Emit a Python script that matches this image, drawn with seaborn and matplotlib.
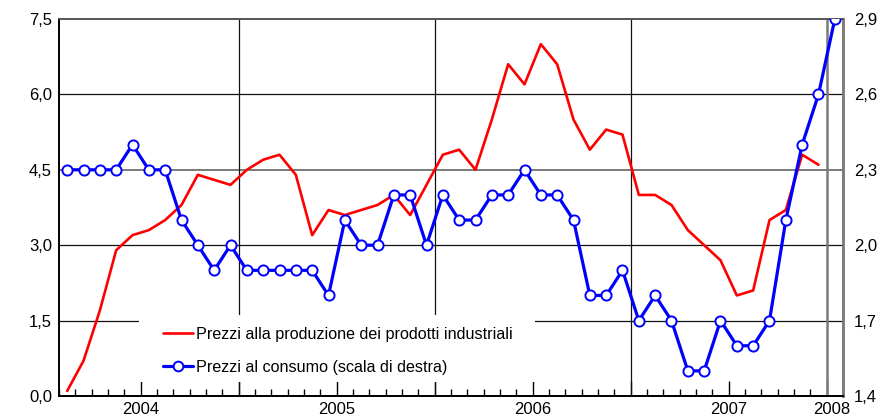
import numpy as np
import pandas as pd
import matplotlib
matplotlib.use("Agg")
import matplotlib.pyplot as plt
import seaborn as sns
from matplotlib.patches import Rectangle
from matplotlib.lines import Line2D

sns.set_theme(style="white")
plt.rcParams["font.family"] = ["Liberation Sans", "DejaVu Sans"]

# ---------------- data ----------------
months = pd.period_range("2004-02", "2008-01", freq="M").strftime("%Y-%m").tolist()

prezzi_produzione = [0.1, 0.7, 1.7, 2.9, 3.2, 3.3, 3.5, 3.8, 4.4, 4.3, 4.2,
                     4.5, 4.7, 4.8, 4.4, 3.2, 3.7, 3.6, 3.7, 3.8, 4.0, 3.6, 4.2,
                     4.8, 4.9, 4.5, 5.5, 6.6, 6.2, 7.0, 6.6, 5.5, 4.9, 5.3, 5.2,
                     4.0, 4.0, 3.8, 3.3, 3.0, 2.7, 2.0, 2.1, 3.5, 3.7, 4.8, 4.6]
prezzi_consumo = [2.3, 2.3, 2.3, 2.3, 2.4, 2.3, 2.3, 2.1, 2.0, 1.9, 2.0,
                  1.9, 1.9, 1.9, 1.9, 1.9, 1.8, 2.1, 2.0, 2.0, 2.2, 2.2, 2.0,
                  2.2, 2.1, 2.1, 2.2, 2.2, 2.3, 2.2, 2.2, 2.1, 1.8, 1.8, 1.9,
                  1.7, 1.8, 1.7, 1.5, 1.5, 1.7, 1.6, 1.6, 1.7, 2.1, 2.4, 2.6,
                  2.9]

left_ticks = [0.0, 1.5, 3.0, 4.5, 6.0, 7.5]
left_labels = ["0,0", "1,5", "3,0", "4,5", "6,0", "7,5"]
right_ticks = [1.4, 1.7, 2.0, 2.3, 2.6, 2.9]
right_labels = ["1,4", "1,7", "2,0", "2,3", "2,6", "2,9"]
years = ["2004", "2005", "2006", "2007", "2008"]

label_ppi = "Prezzi alla produzione dei prodotti industriali"
label_cpi = "Prezzi al consumo (scala di destra)"

df_ppi = pd.DataFrame({"mese": months[:len(prezzi_produzione)], "valore": prezzi_produzione})
df_ppi["pos"] = df_ppi["mese"].map(months.index)
df_cpi = pd.DataFrame({"mese": months[:len(prezzi_consumo)], "valore": prezzi_consumo})
df_cpi["pos"] = df_cpi["mese"].map(months.index)

# ---------------- figure ----------------
fig = plt.figure(figsize=(8.77, 4.20), dpi=100)
ax = fig.add_axes([59 / 877, 1 - 396 / 420, 784 / 877, 377 / 420])
ax.set_facecolor("white")

ax.set_xlim(-0.5, len(months) - 0.5)
ax.set_ylim(0, 7.5)

year_bounds = [months.index(f"{y}-01") - 0.5 for y in years[1:]]
mid_years = [months.index(f"{y}-07") - 0.5 for y in years[:-1]]

# grid lines
for yv in left_ticks[1:-1]:
    if yv == 4.5:
        ax.axhline(yv, color="#6f6f6f", lw=1.3, zorder=1)
    else:
        ax.axhline(yv, color="#111111", lw=0.9, zorder=1)
for xb in year_bounds[:-1]:
    ax.axvline(xb, color="#111111", lw=0.9, zorder=1)
ax.axvline(year_bounds[-1], color="#7a7a7a", lw=1.8, zorder=1)

# white legend box hiding part of the grid
ax.add_patch(Rectangle((0.102, 0.036), 0.505, 0.179, transform=ax.transAxes,
                       facecolor="white", edgecolor="none", zorder=2))

sns.lineplot(data=df_ppi, x="pos", y="valore", ax=ax, color="#ff0000",
             linewidth=1.9, zorder=3, legend=False)

ax2 = ax.twinx()
ax2.set_ylim(1.4, 2.9)
sns.lineplot(data=df_cpi, x="pos", y="valore", ax=ax2, color="#0000ff",
             linewidth=2.3, marker="o", markersize=7.3, markerfacecolor="white",
             markeredgecolor="#0000ff", markeredgewidth=1.4, zorder=4, legend=False)
ax2.set_xlim(-0.5, len(months) - 0.5)

for a in (ax, ax2):
    a.set_xlabel("")
    a.set_ylabel("")
    a.grid(False)

# y axes
ax.set_yticks(left_ticks)
ax.set_yticklabels(left_labels)
ax.tick_params(axis="y", length=0, pad=5, labelsize=12, labelcolor="black")
ax2.set_yticks(right_ticks)
ax2.set_yticklabels(right_labels)
ax2.tick_params(axis="y", length=0, pad=8, labelsize=12, labelcolor="black")

# x axis
ax.set_xticks(mid_years + year_bounds)
ax.set_xticklabels(years[:-1] + [""] * len(year_bounds))
minor = [b for b in np.arange(-0.5, len(months)) if b not in mid_years + year_bounds]
ax.set_xticks(minor, minor=True)
ax.tick_params(axis="x", which="major", direction="in", length=11, width=1.0,
               color="black", pad=4, labelsize=12, bottom=True, labelcolor="black")
ax.tick_params(axis="x", which="minor", direction="in", length=5, width=1.0,
               color="black", bottom=True)
ax2.tick_params(axis="x", bottom=False, top=False)
ax.text(46.8, -0.016, years[-1], transform=ax.get_xaxis_transform(),
        ha="center", va="top", fontsize=12, color="black")

# spines
for a in (ax, ax2):
    a.spines["left"].set_color("black")
    a.spines["left"].set_linewidth(1.2)
    a.spines["bottom"].set_color("black")
    a.spines["bottom"].set_linewidth(1.4)
    a.spines["top"].set_color("#555555")
    a.spines["top"].set_linewidth(1.2)
    a.spines["right"].set_color("#7a7a7a")
    a.spines["right"].set_linewidth(1.8)

# legend
handles = [
    Line2D([], [], color="#ff0000", lw=1.9),
    Line2D([], [], color="#0000ff", lw=2.3, marker="o", markersize=7,
           markerfacecolor="white", markeredgecolor="#0000ff", markeredgewidth=1.4),
]
leg = ax2.legend(handles, [label_ppi, label_cpi], loc="upper left",
                 bbox_to_anchor=((163 - 59) / 784, (396 - 327) / 377),
                 frameon=False, fontsize=11.6, handlelength=1.85,
                 handletextpad=0.2, labelspacing=1.1, borderpad=0,
                 borderaxespad=0, numpoints=1)
for t in leg.get_texts():
    t.set_color("black")

fig.savefig("out.png", dpi=100, facecolor="white")
